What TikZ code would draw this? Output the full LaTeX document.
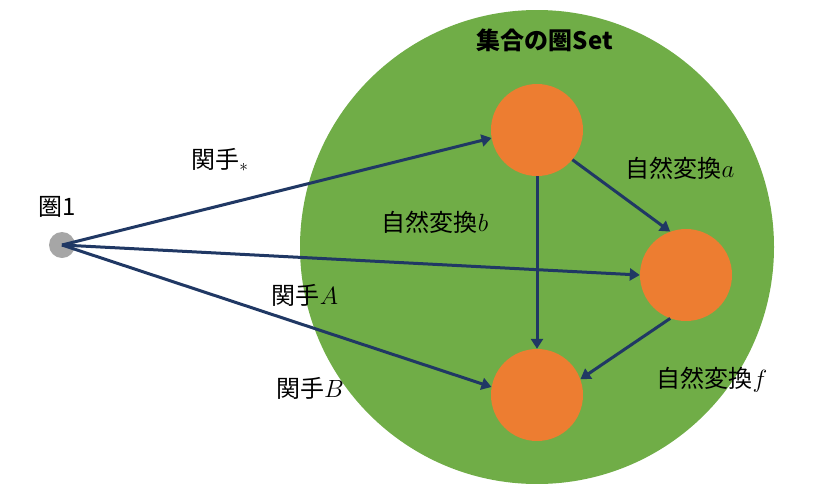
\documentclass[tikz,border=0pt]{standalone}
\usepackage{fontspec}
\newfontfamily\cjk{Noto Sans CJK JP}
\usetikzlibrary{arrows.meta}
\definecolor{grn}{HTML}{70AD47}
\definecolor{org}{HTML}{ED7D31}
\definecolor{nav}{HTML}{203864}
\begin{document}
\begin{tikzpicture}[x=1pt,y=-1pt,
  obj/.style={circle,fill=org,minimum size=92pt,inner sep=0},
  arr/.style={draw=nav,line width=3pt,-{Triangle[length=10pt,width=12pt]}},
  lab/.style={font=\cjk\fontsize{24}{28}\selectfont,inner sep=0}]
\useasboundingbox (0,0) rectangle (820,483);
\node[circle,fill=grn,minimum size=474pt,inner sep=0] (big) at (537,247) {};
\node[lab,font=\cjk\bfseries\fontsize{24}{28}\selectfont] (t) at (545,40) {集合の圏Set};
\node[obj] (o1) at (537,130) {};
\node[obj] (o2) at (686,275) {};
\node[obj] (o3) at (537,395) {};
\node[circle,fill=gray!70,minimum size=26pt,inner sep=0] (p) at (62,245) {};
\node[lab] (pl) at (57,207) {圏1};
\draw[arr] (p.center) -- (o1.190);
\draw[arr] (p.center) -- (o2.west);
\draw[arr] (p.center) -- (o3.170);
\draw[arr] (o1.south) -- (o3.north);
\draw[arr] (o1.-40) -- (o2.110);
\draw[arr] (o2.-110) -- (o3.20);
\node[lab] (l1) at (220,160) {関手$_*$};
\node[lab] (l2) at (435,222) {自然変換$b$};
\node[lab] (l3) at (305,295) {関手$A$};
\node[lab] (l4) at (310,388) {関手$B$};
\node[lab] (l5) at (680,168) {自然変換$a$};
\node[lab] (l6) at (712,380) {自然変換$f$};
\end{tikzpicture}
\end{document}
